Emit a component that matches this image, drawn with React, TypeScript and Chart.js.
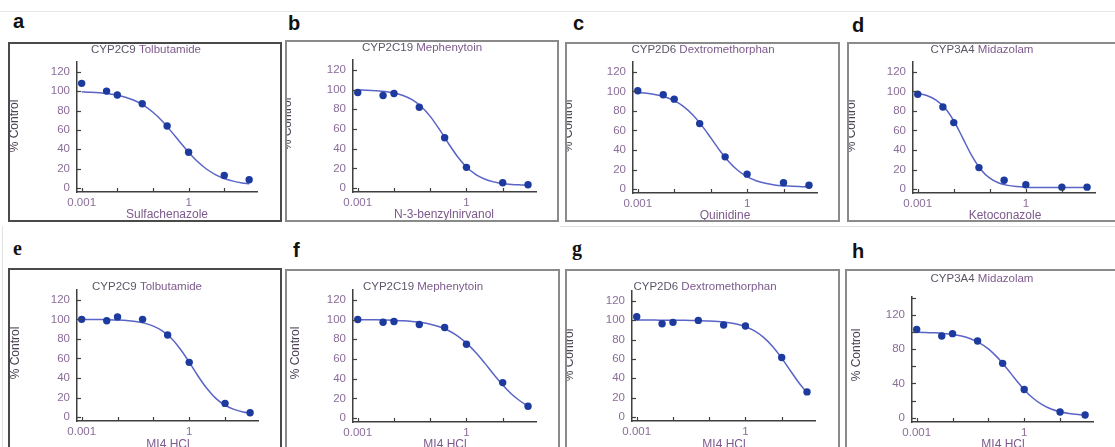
import React, { useEffect, useRef } from 'react';
import { Chart, registerables } from 'chart.js';

Chart.register(...registerables);

// ---------------- data ----------------
const doses = [0.001, 0.005, 0.01, 0.05, 0.25, 1, 10, 50];
const curveDoses = [
  0.001, 0.001778, 0.003162, 0.005623, 0.01, 0.01778, 0.03162, 0.05623, 0.1, 0.1778,
  0.3162, 0.5623, 1, 1.778, 3.162, 5.623, 10, 17.78, 31.62, 50.12,
];

const pointsA = [108, 100, 96, 87, 64, 37, 13, 8.6];
const pointsB = [97, 94, 96, 82, 51, 21, 5.4, 3.4];
const pointsC = [100.6, 96.5, 92, 67, 33, 15.3, 6.5, 4];
const pointsD = [97, 84, 68, 22, 9, 4.4, 2, 2];
const pointsE = [100, 98.5, 102.5, 100, 84, 56, 14, 4.5];
const pointsF = [100, 97.3, 98, 95, 92, 75, 36, 12];
const pointsG = [103.5, 96.3, 97.7, 99.7, 95, 94, 61.5, 26];
const pointsH = [103, 95.4, 98.2, 89.6, 63.5, 33, 6.6, 3.1];

const curveA = [99.3, 98.9, 98.3, 97.3, 95.8, 93.4, 90.0, 85.0, 78.2, 69.5, 59.0, 47.8, 37.0, 27.4, 19.7, 14.0, 9.9, 7.2, 5.3, 4.4];
const curveB = [99.7, 99.4, 98.9, 98.1, 96.6, 94.0, 89.7, 82.8, 72.8, 59.8, 45.5, 32.1, 21.4, 14.0, 9.2, 6.3, 4.6, 3.7, 3.2, 2.9];
const curveC = [98.8, 98.0, 96.6, 94.2, 90.5, 84.7, 76.4, 65.4, 52.6, 39.5, 28.0, 19.0, 12.7, 8.5, 5.9, 4.3, 3.4, 2.8, 2.5, 2.3];
const curveD = [98.0, 95.8, 91.3, 83.2, 69.9, 52.2, 34.2, 20.1, 11.2, 6.3, 3.8, 2.6, 2.0, 1.7, 1.6, 1.55, 1.5, 1.5, 1.5, 1.5];
const curveE = [99.9, 99.9, 99.8, 99.6, 99.3, 98.8, 97.8, 96.1, 93.1, 88.2, 80.6, 69.7, 56.2, 41.8, 28.9, 18.9, 12.1, 7.9, 5.3, 4.1];
const curveF = [99.9, 99.8, 99.7, 99.5, 99.2, 98.8, 98.1, 97.0, 95.3, 92.7, 88.9, 83.5, 76.1, 66.8, 56.0, 44.5, 33.6, 24.2, 16.8, 12.2];
const curveG = [100.0, 100.0, 100.0, 99.9, 99.9, 99.8, 99.7, 99.5, 99.2, 98.6, 97.6, 96.0, 93.2, 88.9, 82.2, 72.8, 60.8, 47.3, 34.2, 25.1];
const curveH = [99.7, 99.4, 99.1, 98.4, 97.3, 95.4, 92.3, 87.5, 80.4, 70.5, 58.4, 45.2, 32.8, 22.7, 15.2, 10.1, 6.9, 4.9, 3.7, 3.1];

const panelLetters = ['a', 'b', 'c', 'd', 'e', 'f', 'g', 'h'];
const enzymes = ['CYP2C9', 'CYP2C19', 'CYP2D6', 'CYP3A4', 'CYP2C9', 'CYP2C19', 'CYP2D6', 'CYP3A4'];
const substrates = ['Tolbutamide', 'Mephenytoin', 'Dextromethorphan', 'Midazolam', 'Tolbutamide', 'Mephenytoin', 'Dextromethorphan', 'Midazolam'];
const inhibitors = ['Sulfachenazole', 'N-3-benzylnirvanol', 'Quinidine', 'Ketoconazole', 'MI4 HCl', 'MI4 HCl', 'MI4 HCl', 'MI4 HCl'];
const yAxisTitle = '% Control';

const xTickValues = [0.001, 0.01, 0.1, 1, 10];
const xTickLabels = ['0.001', '', '', '1', ''];
const yTicksStd = [0, 20, 40, 60, 80, 100, 120];
const yLabelsStd = [0, 20, 40, 60, 80, 100, 120];
const yTicksH = [0, 20, 40, 60, 80, 100, 120, 140];
const yLabelsH = [0, 40, 80, 120];

const allPoints = [pointsA, pointsB, pointsC, pointsD, pointsE, pointsF, pointsG, pointsH];
const allCurves = [curveA, curveB, curveC, curveD, curveE, curveF, curveG, curveH];

const X_MIN = 0.00074;
const X_MAX = 83;

// ---------------- layout / style ----------------
const LAYOUT = [
  { box: [8, 42, 282, 222], plot: [77, 62, 257, 192], title: [146, 50], yTitle: [15, 126], xTitle: [167, 215], letter: [13, 28], border: '#4a4a4a', y: [-4, 130] },
  { box: [285, 40, 559, 222], plot: [353, 60, 536, 192], title: [422, 48], yTitle: [288, 124], xTitle: [444, 215], letter: [288, 30], border: '#8a8a8a', y: [-4, 130] },
  { box: [565, 42, 840, 222], plot: [633, 62, 817, 193], title: [703, 50], yTitle: [569, 126], xTitle: [725, 216], letter: [573, 30], border: '#8a8a8a', y: [-4, 130] },
  { box: [847, 42, 1117, 222], plot: [913, 62, 1095, 193], title: [982, 50], yTitle: [852, 126], xTitle: [1005, 216], letter: [852, 32], border: '#8a8a8a', y: [-4, 130] },
  { box: [8, 268, 282, 462], plot: [77, 290, 258, 421], title: [147, 287], yTitle: [16, 353], xTitle: [168, 445], letter: [13, 255], border: '#4a4a4a', y: [-4, 130] },
  { box: [285, 269, 560, 462], plot: [353, 290, 536, 422], title: [423, 287], yTitle: [296, 353], xTitle: [445, 445], letter: [293, 257], border: '#8a8a8a', y: [-4, 130] },
  { box: [565, 269, 840, 462], plot: [632, 291, 815, 421], title: [705, 287], yTitle: [570, 355], xTitle: [724, 445], letter: [572, 255], border: '#8a8a8a', y: [-4, 130] },
  { box: [845, 269, 1117, 462], plot: [912, 297, 1093, 422], title: [982, 279], yTitle: [857, 355], xTitle: [1003, 445], letter: [852, 258], border: '#8a8a8a', y: [-5, 141] },
];

const Y_SCALE_W = 40;
const X_SCALE_H = 18;

const FONT = '"Liberation Sans", Arial, Helvetica, sans-serif';
const SERIF = '"Liberation Serif", "Times New Roman", serif';
const AXIS = '#3f3f3f';
const DOT = '#1d3a9e';
const CURVE = '#5a64c6';
const TICK_COLOR = '#8a6d99';
const ENZ_COLOR = '#5d5668';
const SUB_COLOR = '#7d5a8c';
const XT_COLOR = '#7d5a8c';
const YT_COLOR = '#4a4052';

function makeDecor(idx: number, ox: number, oy: number) {
  const L = LAYOUT[idx];
  const yTicks = idx === 7 ? yTicksH : yTicksStd;
  return {
    id: 'decor' + idx,
    afterDraw(chart: any) {
      const ctx = chart.ctx;
      const ca = chart.chartArea;
      const xs = chart.scales.x;
      const ys = chart.scales.y;
      ctx.save();
      ctx.strokeStyle = AXIS;
      ctx.lineWidth = 1.2;
      xTickValues.forEach((v) => {
        const p = Math.round(xs.getPixelForValue(v)) + 0.5;
        ctx.beginPath();
        ctx.moveTo(p, ca.bottom);
        ctx.lineTo(p, ca.bottom - 4);
        ctx.stroke();
      });
      yTicks.forEach((v) => {
        const p = Math.round(ys.getPixelForValue(v)) + 0.5;
        ctx.beginPath();
        ctx.moveTo(ca.left, p);
        ctx.lineTo(ca.left + 4, p);
        ctx.stroke();
      });

      // panel title (two tones)
      ctx.font = '11.5px ' + FONT;
      ctx.textBaseline = 'middle';
      ctx.textAlign = 'left';
      const e = enzymes[idx];
      const s = substrates[idx];
      const w1 = ctx.measureText(e + ' ').width;
      const w2 = ctx.measureText(s).width;
      const sx = L.title[0] - ox - (w1 + w2) / 2;
      const ty = L.title[1] - oy;
      ctx.fillStyle = ENZ_COLOR;
      ctx.fillText(e, sx, ty);
      ctx.fillStyle = SUB_COLOR;
      ctx.fillText(s, sx + w1, ty);

      // x title
      ctx.font = '12px ' + FONT;
      ctx.textAlign = 'center';
      ctx.fillStyle = XT_COLOR;
      ctx.fillText(inhibitors[idx], L.xTitle[0] - ox, L.xTitle[1] - oy);

      // y title
      ctx.save();
      ctx.translate(L.yTitle[0] - ox, L.yTitle[1] - oy);
      ctx.rotate(-Math.PI / 2);
      ctx.fillStyle = YT_COLOR;
      ctx.font = '12px ' + FONT;
      ctx.textAlign = 'center';
      ctx.textBaseline = 'middle';
      ctx.fillText(yAxisTitle, 0, 0);
      ctx.restore();

      ctx.restore();
    },
  };
}

function Panel({ idx }: { idx: number }) {
  const ref = useRef<HTMLCanvasElement>(null);
  const L = LAYOUT[idx];
  const [bl, bt, br, bb] = L.box;
  const cw = br - bl - 4;
  const ch = bb - bt - 4;
  const ox = bl + 2;
  const oy = bt + 2;

  useEffect(() => {
    const canvas = ref.current;
    if (!canvas) return;
    const [px0, py0, px1, py1] = L.plot;
    const yTicks = idx === 7 ? yTicksH : yTicksStd;
    const yLabels = idx === 7 ? yLabelsH : yLabelsStd;
    const pts = allPoints[idx];
    const crv = allCurves[idx];
    const tickFont = { family: FONT, size: 11.5 };

    const chart = new Chart(canvas, {
      type: 'line',
      data: {
        datasets: [
          {
            data: doses.map((d, i) => ({ x: d, y: pts[i] })),
            showLine: false,
            pointRadius: 3.7,
            pointBackgroundColor: DOT,
            pointBorderColor: DOT,
            pointBorderWidth: 0,
            borderColor: DOT,
            order: 0,
            clip: false,
          },
          {
            data: curveDoses.map((d, i) => ({ x: d, y: crv[i] })),
            borderColor: CURVE,
            borderWidth: 1.5,
            pointRadius: 0,
            cubicInterpolationMode: 'monotone',
            fill: false,
            order: 1,
            clip: false,
          },
        ],
      },
      options: {
        responsive: false,
        animation: false,
        devicePixelRatio: 1,
        events: [],
        layout: {
          padding: {
            left: px0 - ox - Y_SCALE_W,
            top: py0 - oy,
            right: ox + cw - px1,
            bottom: oy + ch - py1 - X_SCALE_H,
          },
        },
        plugins: {
          legend: { display: false },
          tooltip: { enabled: false },
          title: { display: false },
        },
        scales: {
          x: {
            type: 'logarithmic',
            min: X_MIN,
            max: X_MAX,
            grid: { display: false, drawTicks: false },
            border: { display: true, color: AXIS, width: 1.5 },
            afterFit: (s: any) => {
              s.height = X_SCALE_H;
            },
            afterBuildTicks: (s: any) => {
              s.ticks = xTickValues.map((v) => ({ value: v }));
            },
            ticks: {
              autoSkip: false,
              maxRotation: 0,
              minRotation: 0,
              padding: 4,
              color: TICK_COLOR,
              font: tickFont,
              callback: (v: any) => {
                const k = xTickValues.findIndex((t) => Math.abs(Math.log10(t) - Math.log10(Number(v))) < 1e-6);
                return k >= 0 ? xTickLabels[k] : '';
              },
            },
          },
          y: {
            type: 'linear',
            min: L.y[0],
            max: L.y[1],
            grid: { display: false, drawTicks: false },
            border: { display: true, color: AXIS, width: 1.5 },
            afterFit: (s: any) => {
              s.width = Y_SCALE_W;
            },
            afterBuildTicks: (s: any) => {
              s.ticks = yTicks.map((v) => ({ value: v }));
            },
            ticks: {
              autoSkip: false,
              padding: 7,
              color: TICK_COLOR,
              font: tickFont,
              callback: (v: any) => (yLabels.includes(Number(v)) ? String(v) : ''),
            },
          },
        },
      },
      plugins: [makeDecor(idx, ox, oy)],
    } as any);
    return () => chart.destroy();
  }, []);

  return (
    <div
      style={{
        position: 'absolute',
        left: bl,
        top: bt,
        width: br - bl,
        height: bb - bt,
        border: `2px solid ${L.border}`,
        boxSizing: 'border-box',
        background: '#fff',
      }}
    >
      <canvas ref={ref} width={cw} height={ch} style={{ position: 'absolute', left: 0, top: 0, width: cw, height: ch }} />
    </div>
  );
}

export default function App() {
  return (
    <div
      style={{
        position: 'fixed',
        left: 0,
        top: 0,
        width: 1115,
        height: 447,
        overflow: 'hidden',
        background: '#ffffff',
      }}
    >
      <div style={{ position: 'absolute', left: 0, top: 11, width: 1115, height: 1, background: '#e6e6e6' }} />
      <div style={{ position: 'absolute', left: 560, top: 226, width: 555, height: 1, background: '#e2e2e2' }} />
      <div style={{ position: 'absolute', left: 2, top: 226, width: 1, height: 221, background: '#e2e2e2' }} />
      {LAYOUT.map((L, i) => (
        <Panel key={i} idx={i} />
      ))}
      {LAYOUT.map((L, i) => (
        <div
          key={'l' + i}
          style={{
            position: 'absolute',
            left: L.letter[0],
            top: L.letter[1] - 17,
            font: `bold 20px ${i === 4 || i === 6 ? SERIF : FONT}`,
            lineHeight: '20px',
            color: '#111',
          }}
        >
          {panelLetters[i]}
        </div>
      ))}
    </div>
  );
}
